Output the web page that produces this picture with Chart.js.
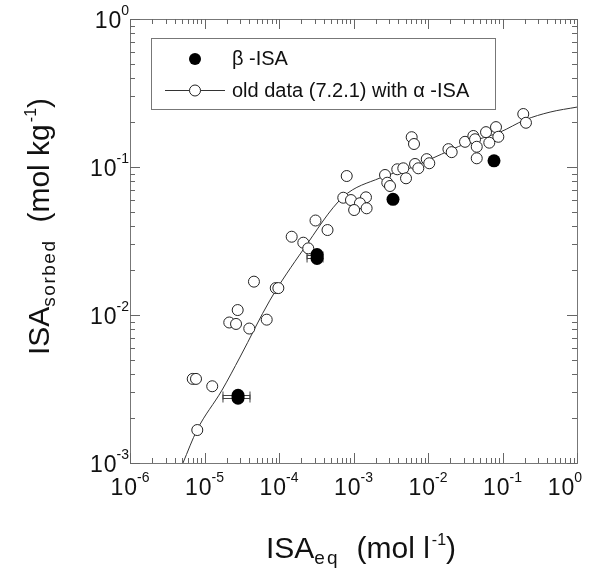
<!DOCTYPE html>
<html>
<head>
<meta charset="utf-8">
<script src="https://cdn.jsdelivr.net/npm/chart.js@4/dist/chart.umd.min.js"></script>
<style>
body { margin: 0; background: #fff; }
canvas { display: block; }
</style>
</head>
<body>
<canvas id="chart" width="599" height="568"></canvas>
<script>
// old data (7.2.1) with alpha-ISA
var oldEq = [2.79e-5, 2.15e-5, 2.65e-5, 3.99e-5, 6.84e-5, 6.95e-6, 7.69e-6, 1.27e-5, 8.0e-6,
	4.61e-5, 9.04e-5, 9.8e-5, 1.48e-4, 2.12e-4, 2.47e-4, 3.09e-4, 4.48e-4, 8.11e-4, 7.29e-4,
	9.25e-4, 1.47e-3, 1.22e-3, 1.02e-3, 1.50e-3, 2.65e-3, 2.84e-3, 3.09e-3, 3.87e-3, 4.66e-3,
	5.07e-3, 6.70e-3, 7.41e-3, 6.04e-3, 6.49e-3, 9.62e-3, 0.0104, 0.0188, 0.0208, 0.0314,
	0.0406, 0.0428, 0.0451, 0.0451, 0.0601, 0.0665, 0.0818, 0.0879, 0.190, 0.2065]
var oldSorbed = [0.0108, 0.0089, 0.0087, 0.0081, 0.0093, 0.0037, 0.0037, 0.0033, 0.00167,
	0.0168, 0.0152, 0.0152, 0.0338, 0.0308, 0.0282, 0.0435, 0.0375, 0.0869, 0.062,
	0.0598, 0.0624, 0.0569, 0.0512, 0.0526, 0.0883, 0.0783, 0.0744, 0.0965, 0.098,
	0.0839, 0.1048, 0.098, 0.159, 0.143, 0.113, 0.106, 0.132, 0.126, 0.148,
	0.162, 0.154, 0.137, 0.1145, 0.172, 0.146, 0.186, 0.160, 0.228, 0.199]

// beta-ISA
var betaEq = [2.82e-5, 2.82e-5, 3.24e-4, 3.24e-4, 3.39e-3, 0.0769]
var betaSorbed = [0.00287, 0.00274, 0.0256, 0.0241, 0.0605, 0.11]
var betaEqLow = [1.77e-5, 1.77e-5, 2.38e-4, 2.38e-4, null, null]
var betaEqHigh = [4.08e-5, 4.08e-5, 3.9e-4, 3.9e-4, null, null]

// fitted curve, points
var fitEq = [5.14e-6, 7.93e-6, 1.72e-5, 3.0e-5, 7.57e-5, 2.10e-4, 7.23e-4, 2.27e-3, 6.3e-3,
	0.01167, 0.0333, 0.0925, 0.2, 0.435, 1.0]
var fitSorbed = [0.001, 0.00167, 0.00311, 0.0052, 0.0126, 0.0275, 0.0627, 0.0843, 0.1,
	0.115, 0.145, 0.172, 0.208, 0.235, 0.254]

var xExps = ['-6', '-5', '-4', '-3', '-2', '-1', '0']
var yExps = ['-3', '-2', '-1', '0']

var FONT = '"Liberation Sans", Arial, Helvetica, sans-serif'

function pts(xs, ys)
{
	var out = []
	for(var i = 0; i < xs.length; i++)
		out.push({x: xs[i], y: ys[i]})
	return out
}

function drawRun(ctx, parts)
{
	var x = 0
	for(var i = 0; i < parts.length; i++)
	{
		var p = parts[i]
		x += p.gap || 0
		ctx.font = p.size + 'px ' + FONT
		ctx.letterSpacing = (p.sp || 0) + 'px'
		ctx.fillText(p.text, x, p.dy || 0)
		x += ctx.measureText(p.text).width
	}
	ctx.letterSpacing = '0px'
}

function powerLabel(ctx, exp, x, baseline, mode)
{
	ctx.font = '23px ' + FONT
	var w1 = ctx.measureText('10').width + 1
	ctx.font = '14px ' + FONT
	var w2 = ctx.measureText(exp).width
	var start
	if(mode == 'right')
		start = x - w1 - w2
	else
	{
		start = x - (w1 + w2) / 2
		if(start + w1 + w2 > 582) start = 582 - w1 - w2
	}
	ctx.textAlign = 'left'
	ctx.font = '23px ' + FONT
	ctx.letterSpacing = '1px'
	ctx.fillText('10', start, baseline)
	ctx.letterSpacing = '0px'
	ctx.font = '14px ' + FONT
	ctx.fillText(exp, start + w1, baseline - 13)
}

var framePlugin = {
	id: 'frame',
	beforeDatasetsDraw: function(chart)
	{
		var ctx = chart.ctx, xs = chart.scales.x, ys = chart.scales.y
		ctx.save()
		ctx.strokeStyle = '#444'
		ctx.lineWidth = 1
		for(var i = 0; i < betaEq.length; i++)
		{
			if(betaEqLow[i] == null) continue
			var a = xs.getPixelForValue(betaEqLow[i])
			var b = xs.getPixelForValue(betaEqHigh[i])
			var py = Math.round(ys.getPixelForValue(betaSorbed[i])) + 0.5
			ctx.beginPath()
			ctx.moveTo(a, py); ctx.lineTo(b, py)
			ctx.moveTo(a, py - 4); ctx.lineTo(a, py + 4)
			ctx.moveTo(b, py - 4); ctx.lineTo(b, py + 4)
			ctx.stroke()
		}
		ctx.restore()
	},
	afterDraw: function(chart)
	{
		var ctx = chart.ctx, xs = chart.scales.x, ys = chart.scales.y
		var area = chart.chartArea
		ctx.save()

		// frame
		ctx.strokeStyle = '#777'
		ctx.lineWidth = 1
		ctx.strokeRect(area.left + 0.5, area.top + 0.5, area.right - area.left, area.bottom - area.top)

		// inward ticks on all four sides
		ctx.strokeStyle = '#666'
		ctx.beginPath()
		for(var d = -6; d <= 0; d++)
			for(var k = 1; k <= 9; k++)
			{
				if(d == 0 && k > 1) break
				var v = k * Math.pow(10, d)
				var len = k == 1 ? 10 : 5
				var px = Math.round(xs.getPixelForValue(v)) + 0.5
				ctx.moveTo(px, area.bottom); ctx.lineTo(px, area.bottom - len)
				ctx.moveTo(px, area.top); ctx.lineTo(px, area.top + len)
				if(d >= -3)
				{
					var py = Math.round(ys.getPixelForValue(v)) + 0.5
					ctx.moveTo(area.left, py); ctx.lineTo(area.left + len, py)
					ctx.moveTo(area.right, py); ctx.lineTo(area.right - len, py)
				}
			}
		ctx.stroke()

		// tick labels
		ctx.fillStyle = '#111'
		for(var i = 0; i < xExps.length; i++)
			powerLabel(ctx, xExps[i], xs.getPixelForValue(Math.pow(10, +xExps[i])), 495, 'center')
		for(var i = 0; i < yExps.length; i++)
			powerLabel(ctx, yExps[i], 129, ys.getPixelForValue(Math.pow(10, +yExps[i])) + 8.5, 'right')

		// axis titles
		ctx.textAlign = 'left'
		ctx.save()
		ctx.translate(266, 558)
		drawRun(ctx, [
			{text: 'ISA', size: 30},
			{text: 'eq', size: 19, dy: 6, sp: 2},
			{text: '(mol l', size: 30, gap: 17},
			{text: '-1', size: 16, dy: -13, gap: 2},
			{text: ')', size: 30}
		])
		ctx.restore()

		ctx.save()
		ctx.translate(49, 355)
		ctx.rotate(-Math.PI / 2)
		drawRun(ctx, [
			{text: 'ISA', size: 30},
			{text: 'sorbed', size: 19, dy: 6, sp: 1.5},
			{text: '(mol kg', size: 30, gap: 17},
			{text: '-1', size: 16, dy: -13, gap: 2},
			{text: ')', size: 30}
		])
		ctx.restore()

		// legend
		ctx.fillStyle = '#fff'
		ctx.fillRect(151, 38, 344, 71)
		ctx.strokeStyle = '#777'
		ctx.strokeRect(151.5, 38.5, 344, 71)
		ctx.fillStyle = '#000'
		ctx.beginPath()
		ctx.arc(195, 59, 6, 0, Math.PI * 2)
		ctx.fill()
		ctx.strokeStyle = '#333'
		ctx.beginPath()
		ctx.moveTo(165, 90.5); ctx.lineTo(225, 90.5)
		ctx.stroke()
		ctx.fillStyle = '#fff'
		ctx.strokeStyle = '#222'
		ctx.beginPath()
		ctx.arc(195, 90.5, 5.5, 0, Math.PI * 2)
		ctx.fill()
		ctx.stroke()
		ctx.fillStyle = '#111'
		ctx.font = '20px ' + FONT
		ctx.fillText('\u03b2 -ISA', 232, 65)
		ctx.fillText('old data (7.2.1) with \u03b1 -ISA', 232, 97)

		ctx.restore()
	}
}

var myChart = new Chart(document.getElementById('chart'), {
	type: 'scatter',
	data: {
		datasets: [
			{
				label: '\u03b2 -ISA',
				data: pts(betaEq, betaSorbed),
				pointRadius: 6.5,
				backgroundColor: '#000',
				borderColor: '#000',
				borderWidth: 0,
				order: 0
			},
			{
				label: 'old data (7.2.1) with \u03b1 -ISA',
				data: pts(oldEq, oldSorbed),
				pointRadius: 5.5,
				backgroundColor: '#fff',
				borderColor: '#222',
				borderWidth: 1,
				order: 1
			},
			{
				label: 'fit',
				data: pts(fitEq, fitSorbed),
				showLine: true,
				pointRadius: 0,
				borderColor: '#333',
				borderWidth: 1,
				tension: 0.4,
				cubicInterpolationMode: 'monotone',
				order: 2
			}
		]
	},
	options: {
		responsive: false,
		animation: false,
		devicePixelRatio: 1,
		layout: { padding: { left: 130, right: 22, top: 19, bottom: 105 } },
		plugins: {
			legend: { display: false },
			tooltip: { enabled: false }
		},
		scales: {
			x: { type: 'logarithmic', min: 1e-6, max: 1, display: false },
			y: { type: 'logarithmic', min: 1e-3, max: 1, display: false }
		}
	},
	plugins: [framePlugin]
})
</script>
</body>
</html>
